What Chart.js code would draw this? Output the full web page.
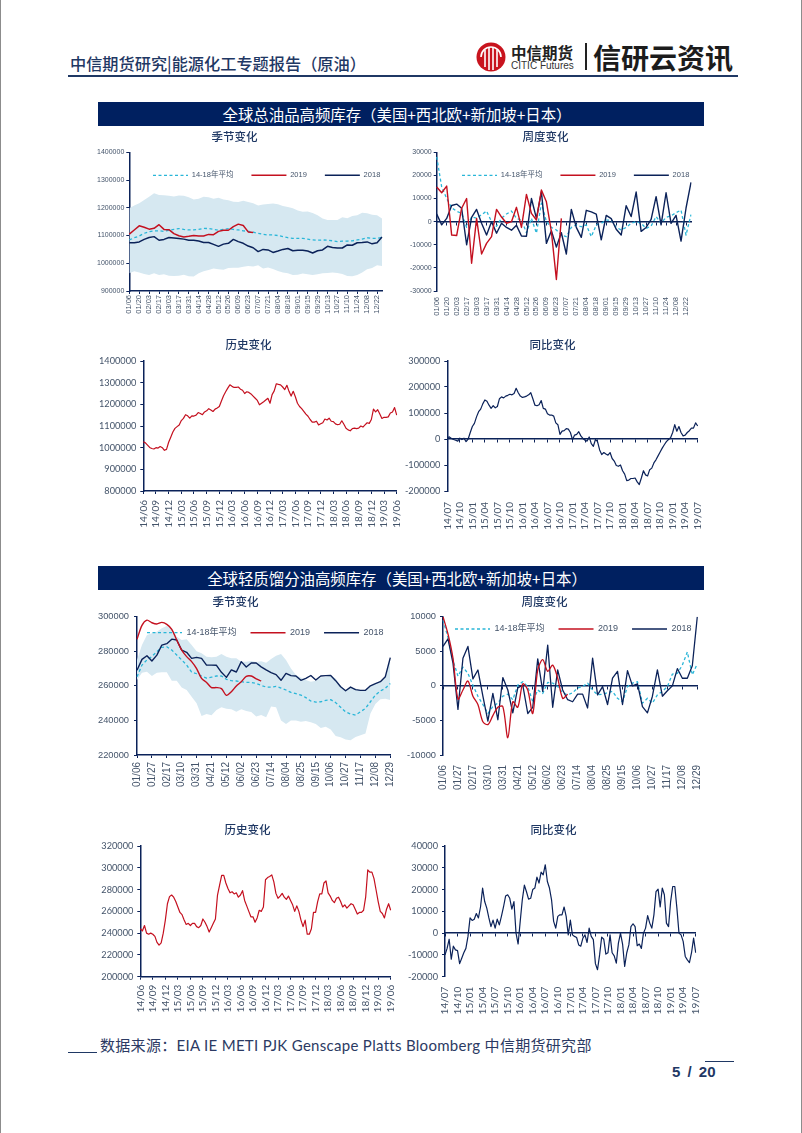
<!DOCTYPE html>
<html>
<head>
<meta charset="utf-8">
<title>能源化工专题报告（原油）</title>
<script src="https://cdn.jsdelivr.net/npm/chart.js@4/dist/chart.umd.min.js"></script>
<style>
  html, body { margin: 0; padding: 0; background: #fff; }
  #page { position: relative; width: 802px; height: 1133px; overflow: hidden; box-sizing: border-box;
          border-left: 1px solid #8c8c8c; border-right: 1px solid #8c8c8c; font-family: "Noto Sans CJK SC", sans-serif; }
  #page > div, #page > canvas, #page > svg { position: absolute; white-space: nowrap; }
  #page > div, #page > canvas, #page > svg { margin-left: -1px; }
  .band { left: 98px; width: 606px; height: 24px; line-height: 24px; background: #002060; color: #fff; font-size: 15.4px; text-align: center; text-indent: -8px; }
</style>
</head>
<body>
<div id="page">
  <div style="left:70px;top:51px;font-size:16.2px;line-height:24px;font-weight:500;color:#1f3864">中信期货研究|能源化工专题报告（原油）</div>
  <svg style="left:476px;top:42px" width="30" height="30" viewBox="0 0 30 30">
    <circle cx="15" cy="15" r="14.5" fill="#c8141e"/>
    <path d="M5 15a10 10 0 0 1 20 0" fill="none" stroke="#fff" stroke-width="1.6"/>
    <path d="M9 8v17M13 6v22M17 6v22M21 8v17" stroke="#fff" stroke-width="1.6" fill="none"/>
  </svg>
  <div style="left:511px;top:42px;font-size:15.5px;line-height:20px;font-weight:700;color:#222">中信期货</div>
  <div style="left:511px;top:60px;font-size:10px;line-height:12px;font-family:'Liberation Sans';color:#333">CITIC Futures</div>
  <div style="left:585px;top:43px;width:1.5px;height:27px;background:#222"></div>
  <div style="left:593px;top:40px;font-size:28px;line-height:34px;font-weight:700;color:#1c1c1c">信研云资讯</div>
  <div style="left:68px;top:75px;width:670px;height:1.5px;background:#1f3864"></div>

  <div class="band" style="top:102px">全球总油品高频库存（美国+西北欧+新加坡+日本）</div>
  <div class="band" style="top:566px">全球轻质馏分油高频库存（美国+西北欧+新加坡+日本）</div>

  <canvas id="c1"></canvas><canvas id="c2"></canvas><canvas id="c3"></canvas><canvas id="c4"></canvas>
  <canvas id="c5"></canvas><canvas id="c6"></canvas><canvas id="c7"></canvas><canvas id="c8"></canvas>

  <div style="left:68px;top:1052px;width:29px;height:1px;background:#1f3864"></div>
  <div style="left:100px;top:1034px;font-size:15px;line-height:22px;letter-spacing:0.3px;color:#2b3a63;font-family:Lato,'Noto Sans CJK SC'">数据来源：EIA IE METI PJK Genscape Platts Bloomberg 中信期货研究部</div>
  <div style="left:705px;top:1061px;width:29px;height:1px;background:#1f3864"></div>
  <div style="left:672px;top:1062px;font-size:15px;line-height:20px;font-weight:700;color:#1f3864;font-family:'Liberation Sans';word-spacing:3px">5 / 20</div>
</div>
<script>
// tick labels
const weekTicks2 = ["01/06","01/20","02/03","02/17","03/03","03/17","03/31","04/14","04/28","05/12","05/26","06/09","06/23","07/07","07/21","08/04","08/18","09/01","09/15","09/29","10/13","10/27","11/10","11/24","12/08","12/22"];
const weekTicks3 = ["01/06","01/27","02/17","03/10","03/31","04/21","05/12","06/02","06/23","07/14","08/04","08/25","09/15","10/06","10/27","11/17","12/08","12/29"];
const histTicks = ["14/06","14/09","14/12","15/03","15/06","15/09","15/12","16/03","16/06","16/09","16/12","17/03","17/06","17/09","17/12","18/03","18/06","18/09","18/12","19/03","19/06"];
const yoyTicks = ["14/07","14/10","15/01","15/04","15/07","15/10","16/01","16/04","16/07","16/10","17/01","17/04","17/07","17/10","18/01","18/04","18/07","18/10","19/01","19/04","19/07"];

// 全球总油品 季节变化
const totalSeason2019 = [1105000,1120000,1135000,1130000,1123000,1126000,1139000,1122000,1121000,1107000,1099000,1095000,1097000,1100000,1098000,1098000,1104000,1103000,1115000,1119000,1119000,1132000,1141000,1136000,1113000,1111000];
const totalSeason2018 = [1074000,1074000,1077000,1086000,1093000,1096000,1083000,1086000,1093000,1091000,1089000,1087000,1083000,1083000,1080000,1075000,1075000,1068000,1061000,1069000,1072000,1086000,1078000,1072000,1062000,1056000,1042000,1050000,1048000,1039000,1044000,1050000,1053000,1045000,1047000,1047000,1044000,1037000,1045000,1048000,1061000,1057000,1055000,1055000,1066000,1065000,1074000,1075000,1077000,1070000,1074000,1095000];
const totalSeasonAvg = [1084000,1092000,1098000,1108000,1114000,1117000,1117000,1115000,1119000,1122000,1125000,1122000,1120000,1120000,1122000,1126000,1125000,1122000,1119000,1122000,1125000,1122000,1120000,1117000,1115000,1112000,1108000,1104000,1102000,1102000,1100000,1096000,1092000,1090000,1090000,1090000,1087000,1084000,1083000,1084000,1083000,1081000,1078000,1080000,1080000,1081000,1084000,1087000,1092000,1090000,1090000,1093000];
const totalSeasonHigh = [1198000,1208000,1216000,1228000,1240000,1252000,1246000,1245000,1243000,1241000,1244000,1243000,1238000,1230000,1233000,1240000,1238000,1233000,1236000,1230000,1227000,1222000,1221000,1225000,1221000,1216000,1208000,1212000,1214000,1215000,1213000,1206000,1203000,1198000,1190000,1186000,1187000,1181000,1173000,1161000,1156000,1156000,1156000,1166000,1162000,1170000,1173000,1182000,1180000,1175000,1173000,1161000];
const totalSeasonLow = [964000,971000,967000,961000,958000,964000,958000,960000,955000,954000,955000,959000,953000,952000,964000,971000,976000,981000,978000,977000,983000,984000,984000,987000,990000,988000,993000,981000,985000,979000,972000,967000,964000,958000,959000,963000,960000,958000,960000,964000,965000,967000,965000,961000,954000,953000,958000,967000,978000,983000,993000,990000];

// 全球总油品 周度变化
const totalWeek2019 = [15000,12500,15400,-5800,-6000,5800,10000,-18000,1400,-14000,-9400,-6500,5300,2000,-700,0,6200,-2500,11800,3600,700,13700,8600,-4300,-25000,1400];
const totalWeek2018 = [3300,-1400,1400,7000,7600,5800,-10000,1900,5300,-700,-5800,0,-5000,-700,-2500,-3700,-1600,-6200,-6300,10000,1400,13000,-9400,-3900,-11000,-4800,-14000,5300,-2500,-6800,4900,4200,3300,-7900,2700,1300,-3300,-5800,6900,2200,12800,-4200,-2500,1000,10800,-1400,12500,-700,2700,-8400,5800,17000];
const totalWeekAvg = [28000,15000,10000,6000,4500,3600,-2500,2000,1500,3000,4600,0,-2000,1500,3300,4600,1400,700,-4800,1400,-5000,8000,0,-2500,-3600,-5800,-6500,-2500,-1400,-2200,-1400,-6500,-1400,-700,700,700,-2500,-3600,-2500,-700,0,-700,-2900,-1900,2200,-700,1900,2500,3900,5000,-5800,3000];

// 全球总油品 历史变化 / 同比变化
const totalHistory = [1027000,1022000,1012000,1001000,996000,994000,1000000,998000,1005000,1000000,988000,992000,1025000,1048000,1072000,1089000,1097000,1105000,1125000,1135000,1152000,1147000,1136000,1147000,1146000,1150000,1162000,1158000,1152000,1165000,1170000,1180000,1174000,1167000,1178000,1183000,1190000,1215000,1240000,1258000,1275000,1290000,1283000,1278000,1278000,1280000,1270000,1265000,1250000,1258000,1255000,1248000,1238000,1228000,1218000,1198000,1205000,1212000,1220000,1228000,1205000,1245000,1262000,1295000,1292000,1290000,1280000,1268000,1288000,1260000,1238000,1260000,1235000,1205000,1190000,1180000,1168000,1155000,1145000,1130000,1118000,1118000,1122000,1105000,1110000,1115000,1132000,1128000,1136000,1122000,1120000,1110000,1106000,1108000,1124000,1108000,1090000,1082000,1078000,1088000,1090000,1088000,1090000,1100000,1095000,1105000,1115000,1112000,1130000,1178000,1165000,1175000,1155000,1135000,1140000,1140000,1142000,1160000,1165000,1185000,1150000];
const totalYoy = [5000,8000,2000,-2000,-5000,-8000,3000,-2000,3000,-10000,0,25000,48000,60000,85000,105000,115000,135000,150000,145000,130000,118000,128000,120000,125000,155000,162000,158000,165000,168000,172000,170000,175000,195000,178000,165000,160000,162000,165000,170000,178000,155000,130000,128000,132000,148000,118000,115000,97000,92000,92000,88000,62000,55000,18000,30000,32000,40000,38000,25000,-3000,15000,18000,28000,12000,2000,-5000,-8000,8000,-18000,-28000,-2000,-10000,-42000,-60000,-52000,-58000,-62000,-52000,-75000,-85000,-102000,-105000,-100000,-122000,-135000,-160000,-158000,-152000,-152000,-150000,-165000,-175000,-150000,-122000,-138000,-142000,-118000,-112000,-92000,-80000,-65000,-50000,-35000,-22000,-10000,-2000,5000,25000,55000,30000,48000,25000,12000,15000,25000,32000,42000,42000,62000,50000];

// 全球轻质馏分油 季节变化
const lightSeason2019 = [286900,295000,298000,296500,295800,296700,295600,292700,286500,280700,276900,274000,270000,264300,262000,259000,259000,258400,254500,256600,259900,262400,265500,265700,264000,262800];
const lightSeason2018 = [269000,275300,277400,274400,277800,283600,284400,287000,286500,280700,279400,275900,276500,275900,272000,272000,271900,267800,264900,269200,268000,274000,270900,273200,273200,271000,269200,267600,266500,263200,267200,265900,265700,263200,264300,266000,263400,265700,265900,266000,263000,259500,257200,259300,257800,257400,257400,260000,261300,262400,265300,276300];
const lightSeasonAvg = [265300,272000,275000,277000,279800,282300,282600,280700,277800,275000,272000,268000,267000,265700,264500,265000,265700,265700,263800,263000,262800,262400,262000,262000,261400,260300,259300,259300,259700,258700,257600,256200,255500,254700,253200,251200,250600,250800,251600,252000,250300,247600,244900,243700,243100,245000,247000,250800,254700,257000,258600,261400];
const lightSeasonHigh = [275000,283600,289400,290400,291300,293300,294600,293300,288400,286500,286900,283600,280000,278800,276900,276500,276900,278400,276900,275900,275900,274000,274000,274400,273800,274200,273400,275500,277400,278400,275000,270000,266300,264900,263400,262400,263000,264900,265300,265900,264300,260000,257600,259000,258400,257600,257600,260100,261300,262600,265300,275900];
const lightSeasonLow = [263400,267600,268200,265700,267600,267800,267800,263000,263000,259000,257600,253700,249900,242600,243700,243000,246000,247600,246800,246400,245000,246400,245400,244900,242200,243100,241800,248000,247600,239900,237900,239900,239900,239300,239700,239000,237900,235600,236400,234800,231000,230200,229000,228500,230400,231400,232500,244000,249500,252200,252600,251800];

// 全球轻质馏分油 周度变化
const lightWeek2019 = [10000,7500,4000,-1900,-600,700,-1500,-2700,-5200,-5600,-4300,-3100,-3000,-7500,-2300,-3100,300,-600,-4000,2300,3800,2100,3000,1100,-1800,-1200];
const lightWeek2018 = [5700,6800,3300,-3400,4000,5700,1000,2300,-1500,-5100,-1100,-4900,1200,-600,-3900,-300,100,-4000,-3100,3900,-800,5900,-3100,2300,-600,-2000,-2300,-1200,-1200,-3200,4000,-1300,-100,-2700,1100,2100,-2700,2200,0,300,-3000,-3900,-1500,2300,-1500,-700,0,2500,1100,1100,2900,10000];
const lightWeekAvg = [9500,7000,3700,1400,2700,1800,100,-1500,-2700,-4000,-3000,-2500,-1500,-1200,-2000,100,600,-100,-2300,-600,-1100,500,400,-100,-1000,-1300,-1000,-300,-100,400,-600,-1300,-1200,-1000,-800,-1800,-2300,-100,400,600,-2500,-1800,-2500,-1300,-800,-100,1700,1800,3000,4900,1600,3200];

// 全球轻质馏分油 历史变化 / 同比变化
const lightHistory = [244000,242000,247000,240000,239000,240000,239000,237000,231500,229000,231000,240000,252000,267000,273500,275000,273000,269000,264000,259000,257000,252000,248000,249000,247000,249000,249000,246000,245000,247000,253000,250000,246000,241000,245000,249000,253000,275000,284000,293000,293000,286000,281000,277000,278000,276000,277000,273000,275000,279000,270000,265000,260000,255000,255000,250000,254000,261000,260000,264000,289000,291000,292000,293500,287000,276500,272000,274000,276500,273000,271000,274000,270000,266000,260000,265000,260000,252000,246000,252000,239000,239000,244000,259000,259000,269000,276000,276000,286000,288000,277000,274000,270000,268000,272000,273000,269000,264000,266000,263000,265000,267000,266000,262000,257500,259000,259000,261000,273000,298000,296000,296000,290000,279600,269000,260000,258000,254000,262000,267000,261000];
const lightYoy = [-10000,-7000,-2800,-12000,-6000,-7700,-8000,-14000,-11500,-9000,-7000,-1500,7000,5800,6400,9000,7000,12000,20700,14500,11500,7000,3000,6000,2300,6400,3800,7700,12000,17000,17600,16000,11000,14500,0,-5000,5400,15300,22000,19000,15600,16000,20000,20700,25700,23000,28000,26800,31400,23700,20700,15300,5400,2300,7700,8400,8400,12000,7700,-800,6000,-800,-1500,-2000,-5400,-6000,-2300,-800,-4300,2300,-1500,-3000,-14000,-16800,-10000,-1800,-2800,-9600,-9000,-800,-9000,-10400,-13800,-4600,0,-5000,-15300,-9000,-5400,3000,4300,3000,-5800,-5000,-7000,0,2300,8000,4600,2300,8400,19000,20200,12000,20700,17600,4600,3000,14500,21400,21400,11500,0,-800,-3800,-10700,-12300,-13500,-9000,-2300,-9000];

const NAVY = "#0b2259";
const RED = "#c4101f";
const CYAN = "#29b6d8";
const BAND = "#d6e8f1";
const HIDDEN = "rgba(0,0,0,0)";

// put the tick labels on a longer category list, blanks between them
const spread = (ticks, step, total) => {
  const out = new Array(total).fill("");
  ticks.forEach((t, i) => { out[i * step] = t; });
  return out;
};

const bandSets = (high, low) => [
  { label: "high", data: high, borderColor: HIDDEN, backgroundColor: BAND, fill: "+1", order: 5 },
  { label: "low", data: low, borderColor: HIDDEN, backgroundColor: BAND, fill: false, order: 6 },
];

const seasonSets = (avg, y2019, y2018, band, w, smooth) => [
  { label: "14-18年平均", data: avg, borderColor: CYAN, backgroundColor: CYAN, borderWidth: 1.3, borderDash: [3, 2.5], order: 2 },
  { label: "2019", data: y2019, borderColor: RED, backgroundColor: RED, borderWidth: w, tension: smooth, order: 0 },
  { label: "2018", data: y2018, borderColor: NAVY, backgroundColor: NAVY, borderWidth: w, order: 1 },
  ...band,
];

const placePlugin = {
  id: "place",
  beforeLayout(chart) {
    const lg = chart.legend;
    if (!lg || !chart.options.plugins.legend.display) return;
    lg.position = "chartArea"; // keeps the row layout, takes no room from the plot
    lg._layers = () => [{ z: 10, draw() { lg.draw(); } }];
  },
  afterLayout(chart) {
    // title centres on the whole canvas, not the padded box
    chart.titleBlock.left = 0;
    chart.titleBlock.right = chart.width;
    const lg = chart.legend;
    const spot = chart.options.plugins.place;
    if (!lg || !chart.options.plugins.legend.display) return;
    const pad = chart.options.plugins.legend.labels.padding;
    const size = chart.options.plugins.legend.labels.font.size;
    lg.left = spot.x - pad;
    lg.right = chart.width * 3;
    lg.width = lg.right - lg.left;
    lg.top = spot.y - pad - size / 2;
  },
};

// point-style legend items lose the dash and width, take them from the dataset
const legendItems = (chart) => {
  const items = Chart.defaults.plugins.legend.labels.generateLabels(chart);
  items.forEach((it) => {
    const ds = chart.data.datasets[it.datasetIndex];
    it.lineDash = ds.borderDash;
    it.lineWidth = ds.borderWidth;
    it.strokeStyle = ds.borderColor;
  });
  return items;
};

const drawChart = (id, o) => {
  const half = Math.max(o.cx - (o.l - 48), o.r - o.cx) + 8;
  const left = Math.round(o.cx - half);
  const top = Math.round(o.ty - 7);
  const width = Math.round(half * 2);
  const height = Math.round(o.b + 42 - top);
  const canvas = document.getElementById(id);
  canvas.style.left = left + "px";
  canvas.style.top = top + "px";
  canvas.width = width;
  canvas.height = height;

  const tickFont = { family: o.family, size: o.size };
  const markColor = (c) => (c.tick && c.tick.label ? NAVY : HIDDEN);
  const fixX = (s, h) => { s.height = h; s.paddingLeft = 0; s.paddingRight = 0; };

  const scales = {
    x: {
      type: "category",
      offset: false,
      border: { display: o.zero === undefined, color: NAVY, width: 1.5 },
      grid: { display: o.zero === undefined, drawOnChartArea: false, tickLength: 3, tickColor: markColor, lineWidth: 1 },
      ticks: { autoSkip: false, minRotation: 90, maxRotation: 90, padding: o.xPad, color: o.color, font: { family: o.family, size: o.xSize } },
      afterFit: (s) => fixX(s, top + height - o.b),
    },
    y: {
      min: o.min,
      max: o.max,
      border: { color: NAVY, width: 1.5 },
      grid: { drawOnChartArea: false, tickLength: 3, color: NAVY, lineWidth: 1 },
      ticks: { stepSize: o.step, padding: o.yPad, color: o.color, font: tickFont, callback: (v) => String(v) },
      afterFit: (s) => { s.width = o.l - left; s.paddingTop = 0; s.paddingBottom = 0; },
    },
  };
  if (o.zero !== undefined) {
    // zero line with its own tick marks, labels stay on the bottom axis
    scales.x2 = {
      type: "category",
      offset: false,
      position: { y: o.zero },
      z: 1,
      border: { color: NAVY, width: 1.5 },
      grid: { drawOnChartArea: false, tickLength: 3, tickColor: markColor, lineWidth: 1 },
      ticks: { display: false, autoSkip: false, maxRotation: 0 },
      afterFit: (s) => fixX(s, 0),
    };
  }

  new Chart(canvas, {
    type: "line",
    data: { labels: o.labels, datasets: o.datasets },
    plugins: [placePlugin],
    options: {
      responsive: false,
      animation: false,
      elements: { point: { radius: 0 }, line: { borderJoinStyle: "round" } },
      layout: { padding: { top: 0, right: width - (o.r - left), left: 0, bottom: 0 } },
      scales: scales,
      plugins: {
        tooltip: { enabled: false },
        title: {
          display: true,
          text: o.title,
          color: "#1f3864",
          padding: { top: 0, bottom: o.t - top - 13.8 },
          font: { family: "Noto Sans CJK SC", size: 11.5, weight: "500", lineHeight: 1.2 },
        },
        place: o.lx ? { x: o.lx - left, y: o.ly - top } : {},
        legend: {
          display: !!o.lx,
          position: "top",
          align: "start",
          labels: {
            usePointStyle: true,
            pointStyle: "line",
            pointStyleWidth: 35,
            padding: o.lPad || 19,
            color: o.color,
            font: { family: o.family + ', "Noto Sans CJK SC"', size: o.lSize },
            generateLabels: legendItems,
            filter: (item) => item.text !== "high" && item.text !== "low",
            sort: (a, b) => a.datasetIndex - b.datasetIndex,
          },
        },
      },
    },
  });
};

const SANS = '"Liberation Sans"';
const ROUND = "Lato";
const GREY = "#44546a";

drawChart("c1", {
  title: "季节变化", cx: 235, ty: 137, l: 129.3, r: 382, t: 152.3, b: 291,
  min: 900000, max: 1400000, step: 100000, family: SANS, size: 7, xSize: 7.5, color: GREY, xPad: 1, yPad: 2,
  labels: spread(weekTicks2, 2, 52), lx: 153, ly: 175.3, lPad: 18, lSize: 7.5,
  datasets: seasonSets(totalSeasonAvg, totalSeason2019, totalSeason2018, bandSets(totalSeasonHigh, totalSeasonLow), 1.5, 0),
});
drawChart("c2", {
  title: "周度变化", cx: 545, ty: 137, l: 436.7, r: 691, t: 152.3, b: 291, zero: 0,
  min: -30000, max: 30000, step: 10000, family: SANS, size: 7, xSize: 7.5, color: GREY, xPad: 3, yPad: 2,
  labels: spread(weekTicks2, 2, 52), lx: 462, ly: 175.3, lPad: 18, lSize: 7.5,
  datasets: seasonSets(totalWeekAvg, totalWeek2019, totalWeek2018, [], 1.4, 0),
});
drawChart("c3", {
  title: "历史变化", cx: 249, ty: 345, l: 143.3, r: 396.7, t: 361, b: 491,
  min: 800000, max: 1400000, step: 100000, family: ROUND, size: 9.2, xSize: 10, color: GREY, xPad: 6, yPad: 4,
  labels: spread(histTicks, 6, 121),
  datasets: [{ label: "历史", data: totalHistory, borderColor: RED, borderWidth: 1.2 }],
});
drawChart("c4", {
  title: "同比变化", cx: 553, ty: 345, l: 447.3, r: 697.7, t: 361, b: 491, zero: 0,
  min: -200000, max: 300000, step: 100000, family: ROUND, size: 9.2, xSize: 10, color: GREY, xPad: 8, yPad: 4,
  labels: spread(yoyTicks, 6, 121),
  datasets: [{ label: "同比", data: totalYoy, borderColor: NAVY, borderWidth: 1.2 }],
});
drawChart("c5", {
  title: "季节变化", cx: 235.7, ty: 602, l: 137, r: 390.3, t: 616.7, b: 755,
  min: 220000, max: 300000, step: 20000, family: SANS, size: 9.3, xSize: 10, color: GREY, xPad: 4, yPad: 5,
  labels: spread(weekTicks3, 3, 52), lx: 147, ly: 632.7, lPad: 14, lSize: 9,
  datasets: seasonSets(lightSeasonAvg, lightSeason2019, lightSeason2018, bandSets(lightSeasonHigh, lightSeasonLow), 1.4, 0.3),
});
drawChart("c6", {
  title: "周度变化", cx: 544, ty: 602, l: 443, r: 697.3, t: 616.7, b: 755, zero: 0,
  min: -10000, max: 10000, step: 5000, family: SANS, size: 9.3, xSize: 10, color: GREY, xPad: 7, yPad: 4,
  labels: spread(weekTicks3, 3, 52), lx: 455, ly: 629, lPad: 14, lSize: 9,
  datasets: seasonSets(lightWeekAvg, lightWeek2019, lightWeek2018, [], 1.3, 0.3),
});
drawChart("c7", {
  title: "历史变化", cx: 247.7, ty: 830.3, l: 140.3, r: 390.7, t: 846, b: 976.7,
  min: 200000, max: 320000, step: 20000, family: ROUND, size: 9.2, xSize: 10, color: GREY, xPad: 5, yPad: 4,
  labels: spread(histTicks, 6, 121),
  datasets: [{ label: "历史", data: lightHistory, borderColor: RED, borderWidth: 1.2 }],
});
drawChart("c8", {
  title: "同比变化", cx: 553.7, ty: 830.3, l: 445, r: 695.7, t: 846, b: 976.7, zero: 0,
  min: -20000, max: 40000, step: 10000, family: ROUND, size: 9.2, xSize: 10, color: GREY, xPad: 7, yPad: 4,
  labels: spread(yoyTicks, 6, 121),
  datasets: [{ label: "同比", data: lightYoy, borderColor: NAVY, borderWidth: 1.2 }],
});
</script>
</body>
</html>
